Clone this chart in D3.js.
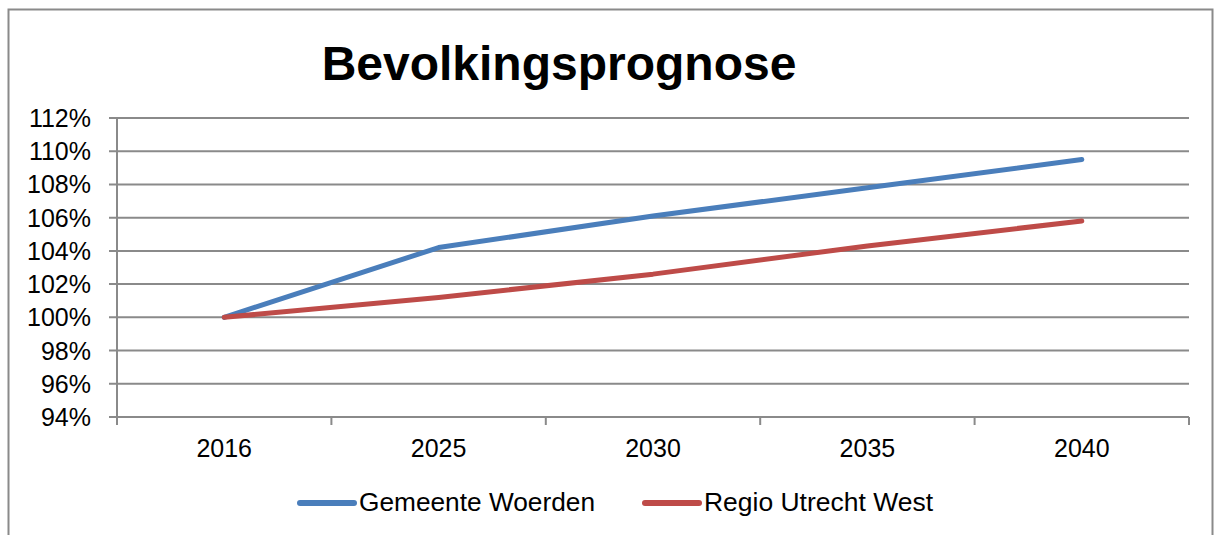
<!DOCTYPE html>
<html lang="nl">
<head>
    <meta charset="UTF-8">
    <title>Bevolkingsprognose</title>
    <script src="https://d3js.org/d3.v7.min.js"></script>
    <style>
        body { margin: 0; background: #fff; }
        text { font-family: "Liberation Sans", Arial, sans-serif; fill: #000; }
    </style>
</head>
<body>
    <svg width="1215" height="535" id="chart"></svg>

    <script>
        // data
        const years = ["2016", "2025", "2030", "2035", "2040"];
        const woerden = [100, 104.2, 106.1, 107.8, 109.5];
        const regio = [100, 101.2, 102.6, 104.3, 105.8];
        const yTicks = [94, 96, 98, 100, 102, 104, 106, 108, 110, 112];
        const seriesNames = ["Gemeente Woerden", "Regio Utrecht West"];
        const seriesColors = ["#4a7ebb", "#be4b48"];

        const svg = d3.select('#chart');
        const gridColor = "#8a8a8a";

        // outer frame
        svg.append("rect")
            .attr("x", 8.5)
            .attr("y", 9.5)
            .attr("width", 1204)
            .attr("height", 540)
            .attr("fill", "none")
            .attr("stroke", gridColor)
            .attr("stroke-width", 2);

        // title
        svg.append("text")
            .attr("x", 559)
            .attr("y", 80)
            .attr("text-anchor", "middle")
            .attr("font-size", 48)
            .attr("font-weight", "bold")
            .text("Bevolkingsprognose");

        // scales
        const x = d3.scaleBand().domain(years).range([117, 1189]).padding(0);
        const y = d3.scaleLinear().domain([94, 112]).range([417, 118]);

        // gridlines + y labels
        svg.selectAll(".grid")
            .data(yTicks)
            .join("line")
            .attr("class", "grid")
            .attr("x1", 109)
            .attr("x2", 1189)
            .attr("y1", d => y(d))
            .attr("y2", d => y(d))
            .attr("stroke", gridColor)
            .attr("stroke-width", 2);

        svg.selectAll(".ylab")
            .data(yTicks)
            .join("text")
            .attr("class", "ylab")
            .attr("x", 91)
            .attr("y", d => y(d) + 9)
            .attr("text-anchor", "end")
            .attr("font-size", 25)
            .text(d => d + "%");

        // y axis line
        svg.append("line")
            .attr("x1", 117).attr("x2", 117)
            .attr("y1", y(112)).attr("y2", y(94))
            .attr("stroke", gridColor)
            .attr("stroke-width", 2);

        // x axis ticks at category boundaries
        const bounds = years.map(d => x(d)).concat([x.range()[1]]);
        svg.selectAll(".xtick")
            .data(bounds)
            .join("line")
            .attr("class", "xtick")
            .attr("x1", d => d).attr("x2", d => d)
            .attr("y1", y(94)).attr("y2", y(94) + 8)
            .attr("stroke", gridColor)
            .attr("stroke-width", 2);

        svg.selectAll(".xlab")
            .data(years)
            .join("text")
            .attr("class", "xlab")
            .attr("x", d => x(d) + x.bandwidth() / 2)
            .attr("y", 457)
            .attr("text-anchor", "middle")
            .attr("font-size", 25)
            .text(d => d);

        // lines
        const line = d3.line()
            .x((d, i) => x(years[i]) + x.bandwidth() / 2)
            .y(d => y(d));

        [woerden, regio].forEach((vals, i) => {
            svg.append("path")
                .attr("d", line(vals))
                .attr("fill", "none")
                .attr("stroke", seriesColors[i])
                .attr("stroke-width", 5)
                .attr("stroke-linecap", "round")
                .attr("stroke-linejoin", "round");
        });

        // legend
        const legendX = [300, 645];
        const legendW = [236, 229];
        seriesNames.forEach((name, i) => {
            svg.append("line")
                .attr("x1", legendX[i]).attr("x2", legendX[i] + 54)
                .attr("y1", 503).attr("y2", 503)
                .attr("stroke", seriesColors[i])
                .attr("stroke-width", 6)
                .attr("stroke-linecap", "round");
            svg.append("text")
                .attr("x", legendX[i] + 59)
                .attr("y", 511)
                .attr("font-size", 25)
                .attr("textLength", legendW[i])
                .attr("lengthAdjust", "spacingAndGlyphs")
                .text(name);
        });
    </script>
</body>
</html>
